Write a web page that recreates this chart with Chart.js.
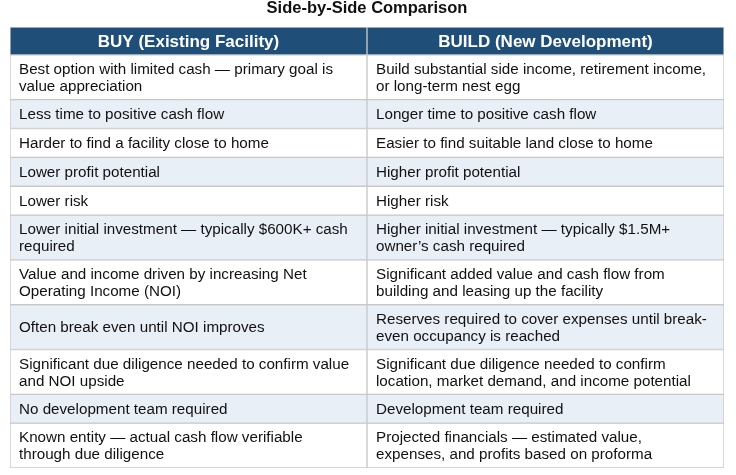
<!DOCTYPE html>
<html><head><meta charset="utf-8">
<script src="https://cdn.jsdelivr.net/npm/chart.js@4/dist/chart.umd.min.js"></script>
<style>html,body{margin:0;padding:0;background:#fff}#c{display:block}</style>
</head><body>
<div style="width:736px;height:475px"><canvas id="c"></canvas></div>
<script>
const title = "Side-by-Side Comparison";
const columns = ["BUY (Existing Facility)", "BUILD (New Development)"];
const buyText = [
 "Best option with limited cash \u2014 primary goal is\nvalue appreciation",
 "Less time to positive cash flow",
 "Harder to find a facility close to home",
 "Lower profit potential",
 "Lower risk",
 "Lower initial investment \u2014 typically $600K+ cash\nrequired",
 "Value and income driven by increasing Net\nOperating Income (NOI)",
 "Often break even until NOI improves",
 "Significant due diligence needed to confirm value\nand NOI upside",
 "No development team required",
 "Known entity \u2014 actual cash flow verifiable\nthrough due diligence"
];
const buildText = [
 "Build substantial side income, retirement income,\nor long-term nest egg",
 "Longer time to positive cash flow",
 "Easier to find suitable land close to home",
 "Higher profit potential",
 "Higher risk",
 "Higher initial investment \u2014 typically $1.5M+\nowner\u2019s cash required",
 "Significant added value and cash flow from\nbuilding and leasing up the facility",
 "Reserves required to cover expenses until break-\neven occupancy is reached",
 "Significant due diligence needed to confirm\nlocation, market demand, and income potential",
 "Development team required",
 "Projected financials \u2014 estimated value,\nexpenses, and profits based on proforma"
];

const lineCount = buyText.map((t,i)=>Math.max(t.split("\n").length, buildText[i].split("\n").length));
const LH = 17;
const rowH = lineCount.map(n=>12+LH*n-(n>1?1:0));
const headerH = 28;
const bounds = [0, headerH];
rowH.forEach(h=>bounds.push(bounds[bounds.length-1]+h));
const total = bounds[bounds.length-1];

const datasets = [{
  data: [[0,headerH],[0,headerH]],
  backgroundColor: "#1f4e79", borderColor: "#c8c8c8", borderWidth: 1, borderSkipped: false,
  cells: columns, header: true
}];
rowH.forEach((h,i)=>{
  datasets.push({
    data: [[bounds[i+1],bounds[i+2]],[bounds[i+1],bounds[i+2]]],
    backgroundColor: i%2===1 ? "#e9eff7" : "#ffffff",
    borderColor: "#c8c8c8", borderWidth: 1, borderSkipped: false,
    cells: [buyText[i], buildText[i]]
  });
});

const textPlugin = {
  id: "cellText",
  afterDatasetsDraw(chart){
    const ctx = chart.ctx;
    ctx.save();
    ctx.fillStyle = "#111";
    ctx.font = "bold 16.5px 'Liberation Sans', Arial, sans-serif";
    ctx.textAlign = "center"; ctx.textBaseline = "middle";
    ctx.fillText(title, (chart.chartArea.left+chart.chartArea.right)/2, 8);
    chart.data.datasets.forEach((ds,di)=>{
      const meta = chart.getDatasetMeta(di);
      meta.data.forEach((bar,ci)=>{
        const p = bar.getProps(["x","y","base","width"],true);
        const top = Math.min(p.y,p.base), bot = Math.max(p.y,p.base);
        const lines = ds.cells[ci].split("\n");
        if (ds.header){
          ctx.fillStyle = "#ffffff";
          ctx.font = "bold 17px 'Liberation Sans', Arial, sans-serif";
          ctx.textAlign = "center";
          ctx.fillText(lines[0], p.x, (top+bot)/2+1);
        } else {
          ctx.fillStyle = "#111";
          ctx.font = "15.2px 'Liberation Sans', Arial, sans-serif";
          ctx.textAlign = "left";
          const left = p.x - p.width/2 + 9;
          const n = lines.length;
          const start = (top+bot)/2 - (n-1)*LH/2;
          lines.forEach((l,k)=>ctx.fillText(l, left, start+k*LH+1));
        }
      });
    });
    ctx.restore();
  }
};

new Chart(document.getElementById("c"), {
  type: "bar",
  data: { labels: columns, datasets },
  options: {
    responsive: true, maintainAspectRatio: false, animation: false,
    layout: { padding: { left: 10, right: 12, top: 27, bottom: 7 } },
    plugins: { legend: {display:false}, tooltip: {enabled:false}, title:{display:false} },
    scales: {
      x: { display: false, stacked: true },
      y: { display: false, reverse: true, min: 0, max: total }
    },
    datasets: { bar: { barPercentage: 1, categoryPercentage: 1, grouped: false } }
  },
  plugins: [textPlugin]
});
</script>
</body></html>
